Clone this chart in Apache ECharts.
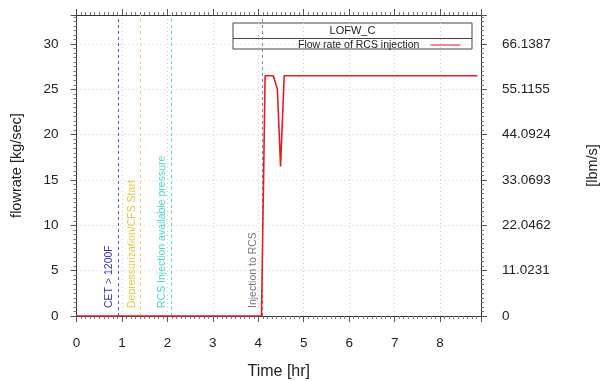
<!DOCTYPE html>
<html>
<head>
<meta charset="utf-8">
<script src="https://cdn.jsdelivr.net/npm/echarts@6/dist/echarts.min.js"></script>
<style>html,body{margin:0;padding:0;background:#fff}#c{width:600px;height:381px}</style>
</head>
<body>
<div id="c"></div>
<script>
// Data
const timeHr = [0, 4.07, 4.15, 4.33, 4.42, 4.49, 4.57, 8.82];
const flowKgS = [0, 0, 26.5, 26.5, 25.0, 16.5, 26.5, 26.5];
const eventTimes = [0.91, 1.40, 2.08, 4.08];
const eventLabels = ['CET > 1200F', 'Depressurization/CFS Start', 'RCS Injection available pressure', 'Injection to RCS'];
const eventColors = ['#3b2fc4', '#f0c43a', '#4fd3d3', '#7a7480'];
const eventLineColors = ['#5a50cc', '#f0d468', '#5fd6d6', '#858595'];
const rightTickLabels = ['0', '11.0231', '22.0462', '33.0693', '44.0924', '55.1155', '66.1387'];
const seriesName = 'Flow rate of RCS injection';
const caseName = 'LOFW_C';

const FONT = 'Liberation Sans, Arial, sans-serif';
const chart = echarts.init(document.getElementById('c'), null, {renderer: 'canvas'});

const axisCommon = {
  axisLine: {show: true, onZero: false, lineStyle: {color: '#333', width: 1}},
  axisTick: {show: true, inside: false, length: 6, lineStyle: {color: '#555'}},
  minorTick: {show: true, splitNumber: 10, length: 3, lineStyle: {color: '#777'}},
};

const markData = eventTimes.map((t, i) => ({
  xAxis: t,
  lineStyle: {color: eventLineColors[i], type: [3, 3], width: 1},
  label: {
    show: true,
    formatter: eventLabels[i],
    position: 'insideStartTop',
    distance: [8, 3],
    color: eventColors[i],
    fontSize: 10.5,
    fontFamily: FONT
  }
}));

chart.setOption({
  animation: false,
  backgroundColor: '#fff',
  grid: {left: 76.5, right: 119, top: 15, bottom: 65, containLabel: false, outerBoundsMode: 'none'},
  xAxis: [
    Object.assign({}, axisCommon, {
      type: 'value', min: 0, max: 8.9, interval: 1, position: 'bottom',
      name: 'Time [hr]', nameLocation: 'middle', nameGap: 48,
      nameTextStyle: {fontSize: 16, color: '#222', fontFamily: FONT},
      axisLabel: {fontSize: 13.5, color: '#222', margin: 20, fontFamily: FONT,
        showMaxLabel: false},
      splitLine: {show: true, lineStyle: {color: '#d0d0d0', type: [1, 3]}}
    }),
    Object.assign({}, axisCommon, {
      type: 'value', min: 0, max: 8.9, interval: 1, position: 'top',
      axisLabel: {show: false}, splitLine: {show: false}
    })
  ],
  yAxis: [
    Object.assign({}, axisCommon, {
      type: 'value', min: 0, max: 33.2, interval: 5, position: 'left',
      name: 'flowrate [kg/sec]', nameLocation: 'middle', nameGap: 52, nameRotate: 90,
      nameTextStyle: {fontSize: 14.5, color: '#222', fontFamily: FONT},
      axisLabel: {fontSize: 13.5, color: '#222', margin: 18, fontFamily: FONT, showMaxLabel: false},
      splitLine: {show: true, lineStyle: {color: '#d0d0d0', type: [1, 3]}}
    }),
    Object.assign({}, axisCommon, {
      type: 'value', min: 0, max: 33.2, interval: 5, position: 'right',
      name: '[lbm/s]', nameLocation: 'middle', nameGap: 104, nameRotate: 90,
      nameTextStyle: {fontSize: 14.5, color: '#222', fontFamily: FONT},
      axisLabel: {fontSize: 13.5, color: '#222', margin: 21, fontFamily: FONT, showMaxLabel: false,
        formatter: v => rightTickLabels[Math.round(v / 5)] || ''},
      splitLine: {show: false}
    })
  ],
  legend: {
    show: true, data: [seriesName], left: 298, top: 39.5, align: 'right',
    itemWidth: 30, itemHeight: 10, padding: 0, itemGap: 0,
    icon: 'path://M0,4.5 L30,4.5 L30,5.5 L0,5.5 Z',
    textStyle: {fontSize: 10.5, color: '#222', fontFamily: FONT, padding: [0, 6, 0, 0]}
  },
  graphic: [
    {type: 'rect', shape: {x: 233, y: 23, width: 239, height: 26},
      style: {fill: '#fff', stroke: '#444', lineWidth: 1}, z: 0},
    {type: 'line', shape: {x1: 233, y1: 38.5, x2: 472, y2: 38.5},
      style: {stroke: '#444', lineWidth: 1}, z: 1},
    {type: 'text', x: 352.5, y: 31, z: 2,
      style: {text: caseName, fill: '#222', font: '11px ' + FONT, textAlign: 'center', textVerticalAlign: 'middle'}}
  ],
  series: [{
    name: seriesName, type: 'line', xAxisIndex: 0, yAxisIndex: 0,
    data: timeHr.map((t, i) => [t, flowKgS[i]]),
    showSymbol: false, symbol: 'none',
    lineStyle: {color: '#e41e26', width: 1.6},
    itemStyle: {color: '#e41e26'},
    z: 5,
    markLine: {silent: true, symbol: ['none', 'none'], data: markData, z: 3}
  }]
});
</script>
</body>
</html>
